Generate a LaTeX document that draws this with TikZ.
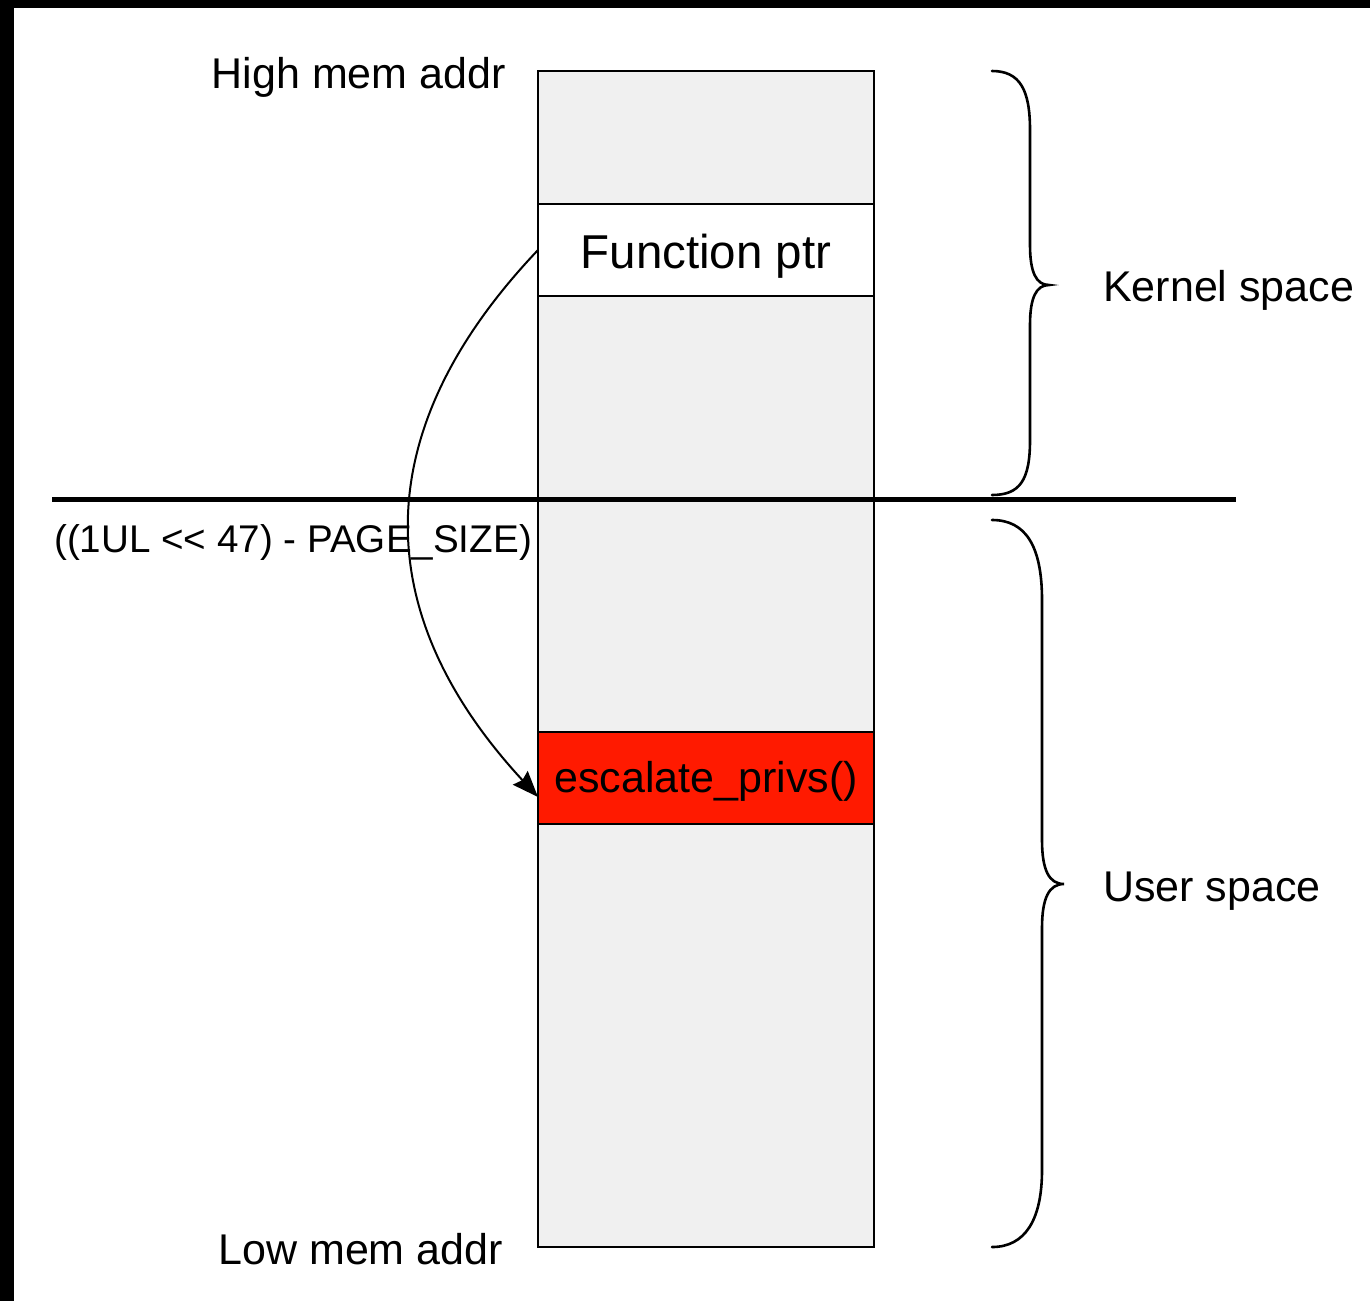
\documentclass[tikz,border=0pt]{standalone}
\usepackage{fontspec}
\newfontfamily\hel{Liberation Sans}
\usetikzlibrary{arrows.meta}
\definecolor{cellgray}{RGB}{240,240,240}
\definecolor{hotred}{RGB}{255,26,0}
\tikzset{
  memcell/.style={draw=black, line width=2pt, minimum width=336pt, minimum height=92pt, inner sep=0pt, outer sep=0pt},
  lbl/.style={inner sep=0pt, font=\hel\fontsize{43}{50}\selectfont},
  celltext/.style={inner sep=0pt, anchor=base},
  curly/.style={line width=2.6pt, line cap=round},
}
\begin{document}
\begin{tikzpicture}[x=1pt,y=-1pt]
\useasboundingbox (0,0) rectangle (1370,1301);
% frame edges
\fill[black] (0,0) rectangle (1370,8);
\fill[black] (0,0) rectangle (14,1301);

% memory column and its two cells
\node[memcell, fill=cellgray, minimum height=1176pt] (mem) at (706,659) {};
\node[memcell, fill=white] (fptr) at (706,250) {};
\node[memcell, fill=hotred] (escal) at (706,778) {};
\node[celltext, font=\hel\fontsize{47.5}{54}\selectfont] (fptrtxt) at (706,268) {Function ptr};
\node[celltext, font=\hel\fontsize{43}{50}\selectfont] (escaltxt) at (706,792) {escalate\_privs()};

% address labels
\node[lbl, anchor=base east] (hi) at (506,88) {High mem addr};
\node[lbl, anchor=base east] (lo) at (503,1264) {Low mem addr};
\node[inner sep=0pt, anchor=base west, font=\hel\fontsize{38.6}{44}\selectfont] (limit) at (54,552) {((1UL << 47) - PAGE\_SIZE)};

% kernel / user boundary
\coordinate (bl) at (52,499);
\coordinate (br) at (1236,499);
\draw[line width=5pt] (bl) -- (br);

% space labels
\node[lbl, anchor=base west] (ks) at (1103,301) {Kernel space};
\node[lbl, anchor=base west] (us) at (1103,901) {User space};

% braces
\draw[curly] (992,71) .. controls (1020,71) and (1030,90) .. (1030,130) -- (1030,245)
  .. controls (1030,272) and (1036,285) .. (1049,285)
  .. controls (1036,285) and (1030,298) .. (1030,325) -- (1030,440)
  .. controls (1030,480) and (1020,495) .. (992,495);
\draw[curly] (992,520) .. controls (1025,520) and (1042,545) .. (1042,600) -- (1042,840)
  .. controls (1042,870) and (1049,884) .. (1064,884)
  .. controls (1049,884) and (1042,898) .. (1042,928) -- (1042,1170)
  .. controls (1042,1220) and (1025,1247) .. (992,1247);

% pointer target arrow
\draw[line width=2pt, -{Stealth[length=26pt,width=20pt,inset=3pt]}]
  (fptr.west) .. controls (367,430) and (367,612) .. ([yshift=-19pt]escal.west);
\end{tikzpicture}
\end{document}
